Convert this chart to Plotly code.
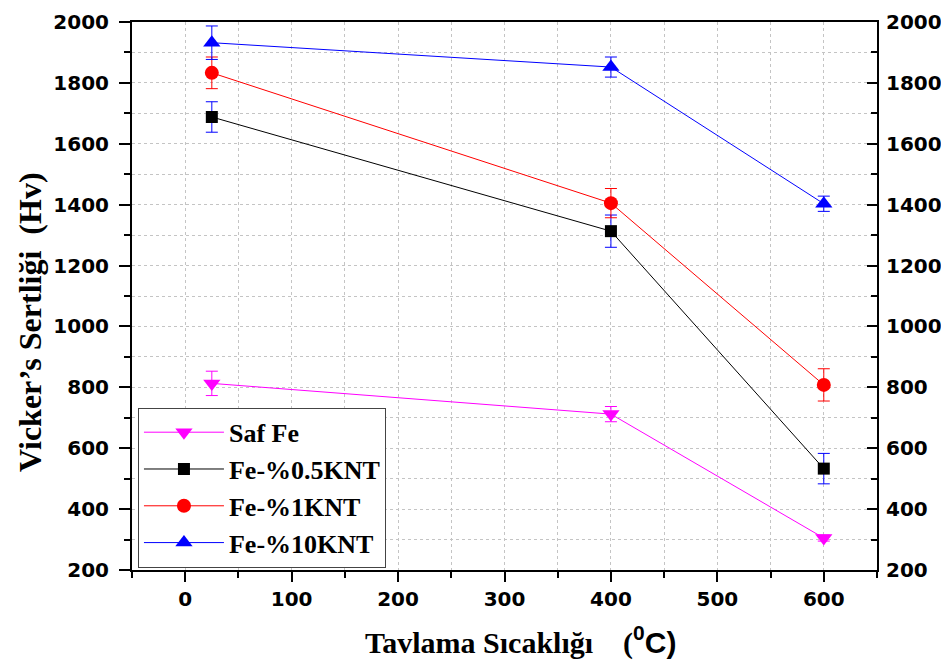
import plotly.graph_objects as go

temps = [25, 400, 600]

saf_fe = [813, 712, 305]
saf_fe_err = [40, 25, 10]

fe_05 = [1688, 1313, 533]
fe_05_err = [50, 53, 50]

fe_1 = [1833, 1405, 808]
fe_1_err = [52, 48, 53]

fe_10 = [1932, 1852, 1403]
fe_10_err = [55, 33, 25]

series = [
    ("Saf Fe", saf_fe, saf_fe_err, "#FF00FF", "#FF00FF", "triangle-down", 15),
    ("Fe-%0.5KNT", fe_05, fe_05_err, "#000000", "#0000FF", "square", 12),
    ("Fe-%1KNT", fe_1, fe_1_err, "#FF0000", "#FF0000", "circle", 14),
    ("Fe-%10KNT", fe_10, fe_10_err, "#0000FF", "#0000FF", "triangle-up", 15),
]

fig = go.Figure()
for name, vals, errs, col, ecol, sym, size in series:
    fig.add_trace(go.Scatter(
        x=temps, y=vals, name=name, mode="lines+markers",
        line=dict(color=col, width=1),
        marker=dict(symbol=sym, size=size, color=col),
        error_y=dict(type="data", array=errs, visible=True, color=ecol, thickness=1, width=6),
    ))

# invisible trace so the right-hand mirrored axis is drawn
fig.add_trace(go.Scatter(
    x=temps, y=fe_10, yaxis="y2", mode="markers",
    marker=dict(opacity=0), showlegend=False, hoverinfo="skip",
))

tickfont = dict(family="DejaVu Sans", size=20, color="black", weight="bold")
gridcol = "#c4c4c4"
grid = dict(showgrid=True, gridcolor=gridcol, griddash="dot", gridwidth=1)

fig.update_layout(
    width=941, height=656,
    margin=dict(l=124, r=72, t=14, b=94, autoexpand=False),
    plot_bgcolor="white", paper_bgcolor="white",
    showlegend=True,
    legend=dict(
        x=0.008, y=0.296, xanchor="left", yanchor="top",
        font=dict(family="Liberation Serif", size=26, color="black", weight="bold"),
        bgcolor="white", bordercolor="#444", borderwidth=1,
        tracegroupgap=0, itemwidth=80,
    ),
    xaxis=dict(
        range=[-50, 650], dtick=100, tick0=0, automargin=False,
        ticks="outside", ticklen=10, tickwidth=2, tickcolor="black",
        showline=True, linecolor="black", linewidth=2, mirror=True,
        tickfont=tickfont, zeroline=False,
        minor=dict(dtick=50, ticks="outside", ticklen=6, tickwidth=2, tickcolor="black",
                   showgrid=True, gridcolor=gridcol, griddash="dot", gridwidth=1),
        **grid,
    ),
    yaxis=dict(
        range=[200, 2000], dtick=200, tick0=0, automargin=False,
        ticks="outside", ticklen=11, tickwidth=2, tickcolor="black",
        showline=True, linecolor="black", linewidth=2, mirror=True,
        tickfont=tickfont, zeroline=False, ticklabelstandoff=6,
        minor=dict(dtick=100, ticks="outside", ticklen=6, tickwidth=2, tickcolor="black",
                   showgrid=True, gridcolor=gridcol, griddash="dot", gridwidth=1),
        **grid,
    ),
    yaxis2=dict(
        range=[200, 2000], dtick=200, tick0=0, overlaying="y", side="right",
        automargin=False,
        ticks="inside", ticklen=10, tickwidth=2, tickcolor="black",
        showline=True, linecolor="black", linewidth=2,
        tickfont=tickfont, zeroline=False, showgrid=False,
        ticklabelstandoff=3,
        minor=dict(dtick=100, ticks="inside", ticklen=6, tickwidth=2, tickcolor="black"),
    ),
    annotations=[
        dict(
            text="Tavlama Sıcaklığı    (<span style='font-family:Liberation Sans'><sup>0</sup>C)</span>",
            xref="paper", yref="paper", x=0.522, y=-0.128, xanchor="center", yanchor="middle",
            showarrow=False,
            font=dict(family="Liberation Serif", size=30, color="black", weight="bold"),
        ),
        dict(
            text="Vicker’s Sertliği  (Hv)",
            xref="paper", yref="paper", x=-0.137, y=0.4526, xanchor="center", yanchor="middle",
            textangle=-90, showarrow=False,
            font=dict(family="Liberation Serif", size=32, color="black", weight="bold"),
        ),
    ],
)

fig.write_html("out.html")
